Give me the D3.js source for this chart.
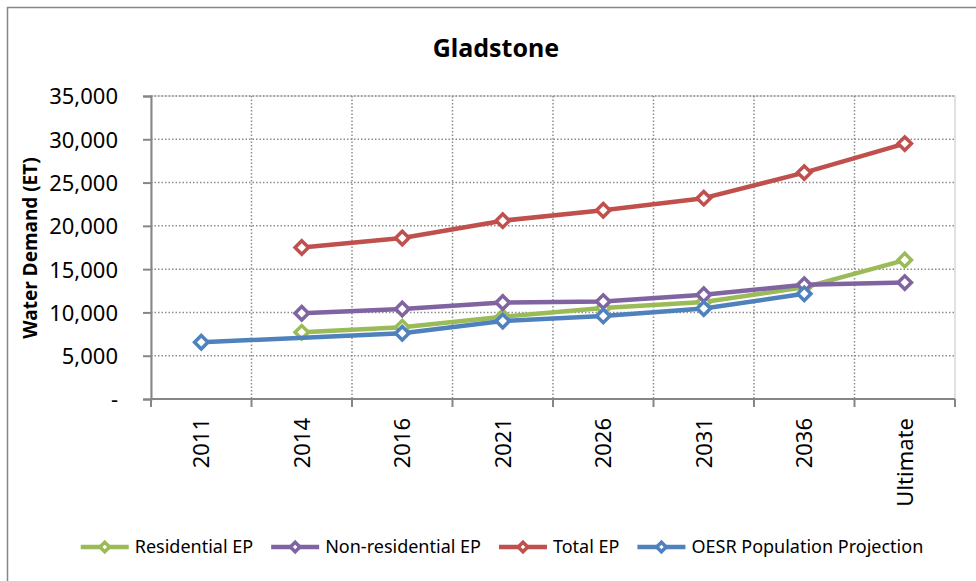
<!DOCTYPE html>
<meta charset="utf-8">
<script src="https://d3js.org/d3.v7.min.js"></script>
<style>
  body { margin: 0; background: #fff; }
  text { font-family: "Noto Sans", sans-serif; fill: #000; }
</style>
<div id="chart"></div>
<script>
// categories and series
var categories = ["2011", "2014", "2016", "2021", "2026", "2031", "2036", "Ultimate"];
var residential = [null, 7700, 8300, 9500, 10500, 11200, 12900, 16050];
var nonResidential = [null, 9900, 10400, 11150, 11250, 12050, 13200, 13450];
var totalEP = [null, 17500, 18600, 20600, 21800, 23200, 26150, 29500];
var oesr = [6550, null, 7600, 9000, 9600, 10450, 12150, null];
var yTicks = [0, 5000, 10000, 15000, 20000, 25000, 30000, 35000];

var seriesNames = ["Residential EP", "Non-residential EP", "Total EP", "OESR Population Projection"];
var seriesValues = [residential, nonResidential, totalEP, oesr];
var seriesColors = ["#9bbb59", "#8064a2", "#c0504d", "#4f81bd"];

var width = 976, height = 581;
var plot = {left: 151, right: 955, top: 96, bottom: 399};

var svg = d3.select("#chart").append("svg")
    .attr("width", width)
    .attr("height", height);

// chart frame
svg.append("rect")
    .attr("x", 7.5).attr("y", 7.5)
    .attr("width", 990).attr("height", 600)
    .attr("fill", "#fff")
    .attr("stroke", "#868686")
    .attr("stroke-width", 1.5);

var x = d3.scaleBand()
    .domain(categories)
    .range([plot.left, plot.right])
    .padding(0);

var y = d3.scaleLinear()
    .domain([0, 35000])
    .range([plot.bottom, plot.top]);

function cx(c) { return x(c) + x.bandwidth() / 2; }

// plot area border
svg.append("rect")
    .attr("x", plot.left).attr("y", plot.top)
    .attr("width", plot.right - plot.left).attr("height", plot.bottom - plot.top)
    .attr("fill", "none")
    .attr("stroke", "#d9d9d9")
    .attr("stroke-width", 1.5);

// horizontal gridlines
svg.append("g")
  .selectAll("line")
  .data(yTicks.filter(function(d) { return d > 0; }))
  .enter().append("line")
    .attr("x1", plot.left).attr("x2", plot.right)
    .attr("y1", function(d) { return y(d); })
    .attr("y2", function(d) { return y(d); })
    .attr("stroke", "#8c8c8c")
    .attr("stroke-width", 1.5)
    .attr("stroke-dasharray", "1.5,2");

// vertical gridlines at category edges
svg.append("g")
  .selectAll("line")
  .data(categories.slice(1))
  .enter().append("line")
    .attr("x1", function(d) { return x(d); })
    .attr("x2", function(d) { return x(d); })
    .attr("y1", plot.top).attr("y2", plot.bottom)
    .attr("stroke", "#8c8c8c")
    .attr("stroke-width", 1.5)
    .attr("stroke-dasharray", "1.5,2");

// y axis
var yAxis = d3.axisLeft(y)
    .tickValues(yTicks)
    .tickSize(8)
    .tickPadding(25)
    .tickFormat(function(d) { return d === 0 ? "-" : d3.format(",")(d); });

var gy = svg.append("g")
    .attr("transform", "translate(" + plot.left + ",0)")
    .call(yAxis);
gy.select(".domain").attr("stroke", "#868686").attr("stroke-width", 2);
gy.selectAll(".tick line").attr("stroke", "#868686").attr("stroke-width", 2);
gy.selectAll(".tick text").style("font-size", "22px").attr("dy", "0.36em");

// x axis: ticks on category edges, labels rotated
svg.append("line")
    .attr("x1", plot.left).attr("x2", plot.right)
    .attr("y1", plot.bottom).attr("y2", plot.bottom)
    .attr("stroke", "#868686").attr("stroke-width", 2);

svg.append("g")
  .selectAll("line")
  .data(categories.map(function(c) { return x(c); }).concat([plot.right]))
  .enter().append("line")
    .attr("x1", function(d) { return d; })
    .attr("x2", function(d) { return d; })
    .attr("y1", plot.bottom).attr("y2", plot.bottom + 8)
    .attr("stroke", "#868686").attr("stroke-width", 2);

svg.append("g")
  .selectAll("text")
  .data(categories)
  .enter().append("text")
    .attr("transform", function(d) { return "translate(" + cx(d) + ",418) rotate(-90)"; })
    .attr("text-anchor", "end")
    .attr("dy", "0.36em")
    .style("font-size", "22px")
    .text(function(d) { return d; });

// titles
svg.append("text")
    .attr("x", 496).attr("y", 57)
    .attr("text-anchor", "middle")
    .style("font-size", "25px")
    .style("font-weight", "bold")
    .text("Gladstone");

svg.append("text")
    .attr("transform", "translate(30,248) rotate(-90)")
    .attr("text-anchor", "middle")
    .attr("dy", "0.36em")
    .style("font-size", "19px")
    .style("font-weight", "bold")
    .text("Water Demand (ET)");

// series
var line = d3.line()
    .x(function(d) { return cx(d.cat); })
    .y(function(d) { return y(d.v); });

var diamond = d3.symbol().type(d3.symbolSquare).size(90);

seriesValues.forEach(function(vals, i) {
  var pts = categories.map(function(c, j) { return {cat: c, v: vals[j]}; })
      .filter(function(d) { return d.v != null; });
  var g = svg.append("g");
  g.append("path")
      .datum(pts)
      .attr("d", line)
      .attr("fill", "none")
      .attr("stroke", seriesColors[i])
      .attr("stroke-width", 4.5)
      .attr("stroke-linejoin", "round");
  g.selectAll("path.mk")
    .data(pts)
    .enter().append("path")
      .attr("class", "mk")
      .attr("d", diamond)
      .attr("transform", function(d) { return "translate(" + cx(d.cat) + "," + y(d.v) + ") rotate(45)"; })
      .attr("fill", "#fff")
      .attr("stroke", seriesColors[i])
      .attr("stroke-width", 3.5);
});

// legend
var legend = svg.append("g");
var lx = 0;
seriesNames.forEach(function(name, i) {
  var it = legend.append("g").attr("transform", "translate(" + lx + ",0)");
  it.append("line")
      .attr("x1", 0).attr("x2", 48)
      .attr("y1", 0).attr("y2", 0)
      .attr("stroke", seriesColors[i]).attr("stroke-width", 4.5);
  it.append("path")
      .attr("d", d3.symbol().type(d3.symbolSquare).size(45))
      .attr("transform", "translate(24,0) rotate(45)")
      .attr("fill", "#fff")
      .attr("stroke", seriesColors[i])
      .attr("stroke-width", 3.5);
  var t = it.append("text")
      .attr("x", 54).attr("dy", "0.36em")
      .style("font-size", "18px")
      .text(name);
  lx += 54 + t.node().getComputedTextLength() + 18;
});
var legendWidth = lx - 18;
legend.attr("transform", "translate(" + (502 - legendWidth / 2) + ",547)");
</script>
